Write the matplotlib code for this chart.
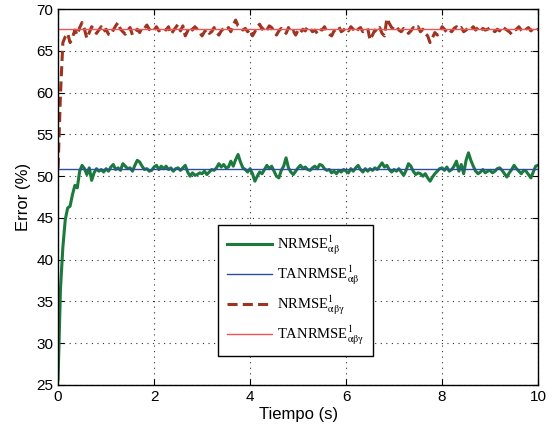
import numpy as np
import matplotlib
matplotlib.use("Agg")
import matplotlib.pyplot as plt

# sample times (s)
t = np.arange(201) * 0.05

# NRMSE alpha-beta (%)
nrmse_ab = [
    25.7, 36.5, 41.5, 44.8, 46.2, 46.4, 47.8, 48.9, 48.6, 50.6,
    51.3, 50.9, 50.2, 51.0, 49.5, 50.4, 50.9, 50.6, 50.8, 50.5,
    50.9, 50.6, 51.1, 51.4, 50.8, 51.0, 50.7, 51.5, 51.2, 50.9,
    51.0, 50.6, 51.3, 51.9, 51.7, 51.2, 50.8, 50.9, 50.6, 50.7,
    51.1, 51.3, 50.8, 51.2, 50.9, 51.2, 50.8, 51.0, 50.6, 50.9,
    51.0, 50.7, 51.0, 51.3, 50.5, 50.0, 50.4, 50.1, 50.2, 50.4,
    50.3, 50.6, 50.2, 50.5, 50.8, 50.7, 51.0, 51.5, 51.1, 51.4,
    51.0, 51.1, 51.8, 51.2, 52.0, 52.6, 51.7, 51.0, 50.8, 50.5,
    50.9, 50.3, 49.4, 50.0, 50.5, 50.3, 50.8, 51.3, 50.9, 51.2,
    50.6, 50.0, 49.8, 50.7, 51.2, 52.2, 51.0, 50.5, 50.2, 50.6,
    51.0, 51.3, 50.9, 51.1, 50.8, 50.7, 51.0, 51.2, 50.9, 51.4,
    51.3, 50.9, 50.7, 50.8, 50.4, 50.6, 50.3, 50.7, 50.5, 50.8,
    50.6, 50.4, 50.9, 50.6, 51.0, 51.3, 50.8, 50.5, 50.9, 50.6,
    50.9, 50.7, 51.0, 50.8, 51.2, 51.6, 51.1, 51.3, 50.8, 50.5,
    50.8, 50.6, 50.9, 50.5, 50.1, 50.7, 51.5, 51.2, 50.6, 50.2,
    50.4, 50.3, 50.0, 50.3, 49.8, 49.4, 49.9, 50.3, 50.6, 50.9,
    51.0, 50.7, 51.1, 50.6, 50.8, 51.2, 51.8, 50.6, 51.4, 50.3,
    51.9, 52.8, 51.9, 51.2, 50.6, 50.3, 50.5, 50.8, 50.4, 50.6,
    50.7, 50.4, 50.6, 50.9, 51.0, 50.7, 50.3, 49.9, 50.4, 50.8,
    51.3, 50.9, 50.6, 50.3, 50.7, 50.6, 50.2, 49.8, 50.5, 51.2,
    51.3,
]

# NRMSE alpha-beta-gamma (%)
nrmse_abg = [
    51.0, 59.8, 66.0, 66.7, 67.1, 66.0, 66.6, 67.5, 66.9, 67.8,
    68.4, 67.6, 66.5, 67.2, 67.9, 67.6, 67.1, 67.5, 67.9, 67.3,
    67.6, 67.0, 66.9, 67.5, 68.0, 68.4, 67.6, 67.3, 67.0, 67.5,
    67.8, 66.9, 67.3, 67.6, 67.2, 67.8, 67.7, 68.1, 67.6, 67.3,
    67.5, 67.9, 67.4, 67.6, 67.7, 67.5, 67.9, 67.0, 67.4, 67.8,
    68.2, 67.4, 68.0, 66.8, 67.4, 67.9, 67.5, 67.9, 67.6, 67.2,
    66.8, 67.3, 67.6, 67.1, 67.3, 67.8, 67.2, 66.9, 67.4, 67.7,
    67.5, 67.8, 67.3, 68.1, 68.7, 68.0, 67.8, 67.5, 67.7, 67.3,
    67.6, 66.8, 67.3, 67.9, 68.2, 67.6, 67.9, 67.5, 68.0, 67.8,
    67.3, 66.9, 67.4, 67.7, 67.5, 67.1, 67.8, 67.2, 67.4, 66.9,
    67.5, 67.2, 67.6, 67.4, 67.9, 67.7, 67.3, 67.5, 67.1, 67.6,
    67.5, 67.9, 67.3, 67.0, 66.8, 67.4, 67.6, 67.9, 67.3, 67.5,
    67.8, 67.4, 67.9, 67.6, 67.2, 67.6, 67.8, 67.3, 67.5, 67.7,
    66.3, 66.9, 67.5, 67.3, 67.8, 67.1, 66.8, 68.9, 68.3, 67.8,
    67.6, 67.9, 67.5, 67.3, 67.7, 67.5, 67.1, 67.4, 67.8, 67.6,
    67.9, 67.3, 67.6, 67.1, 66.8, 66.0, 66.6, 67.2, 66.9, 67.1,
    67.9, 67.6, 67.2, 67.5, 67.3, 67.7, 67.9, 67.6, 67.8, 67.3,
    67.5, 67.8, 67.6, 67.9, 67.5, 67.8, 67.4, 67.7, 67.5, 67.6,
    67.8, 67.5, 67.3, 67.6, 67.4, 67.9, 67.7, 67.5, 67.3, 67.0,
    67.4, 67.6, 67.9, 67.5, 67.3, 67.6, 67.8, 67.4, 67.7, 67.5,
    67.6,
]

# time-averaged values (%)
tanrmse_ab = 50.85
tanrmse_abg = 67.65

plt.rcParams['font.family'] = ['Liberation Sans', 'DejaVu Sans']
plt.rcParams['mathtext.fontset'] = 'stix'

fig = plt.figure(figsize=(5.53, 4.29), dpi=100)
ax = fig.add_axes([0.105, 0.1026, 0.868, 0.876])

ax.plot(t, nrmse_ab, '-', color='#1b7a3c', lw=2.2, label=r'NRMSE$^{1}_{\mathrm{αβ}}$')
ax.plot([t[0], t[-1]], [tanrmse_ab, tanrmse_ab], '-', color='#2c4da0', lw=1.0,
        label=r'TANRMSE$^{1}_{\mathrm{αβ}}$')
ax.plot(t, nrmse_abg, '--', color='#9c3422', lw=2.2, dashes=(3.3, 1.7),
        label=r'NRMSE$^{1}_{\mathrm{αβγ}}$')
ax.plot([t[0], t[-1]], [tanrmse_abg, tanrmse_abg], '-', color='#ee5555', lw=1.0,
        label=r'TANRMSE$^{1}_{\mathrm{αβγ}}$')

ax.set_xlim(0, 10)
ax.set_ylim(25, 70)
ax.set_xticks([0, 2, 4, 6, 8, 10])
ax.set_yticks(range(25, 71, 5))
ax.tick_params(direction='in', top=True, right=True, labelsize=11, length=4)
ax.grid(True, color='#333333', linestyle=(0, (1, 4)), lw=0.8)
for s in ax.spines.values():
    s.set_linewidth(1.0)

ax.set_xlabel('Tiempo (s)', fontsize=12, labelpad=2)
ax.set_ylabel('Error (%)', fontsize=12, labelpad=4)

leg = ax.legend(loc='upper left', bbox_to_anchor=(0.333, 0.426),
                fancybox=False, framealpha=1, edgecolor='black',
                handlelength=3.1, handletextpad=0.35, labelspacing=0.45,
                borderpad=0.6, borderaxespad=0,
                prop={'family': 'Liberation Serif', 'size': 10.5})
leg.get_frame().set_linewidth(1.0)

plt.savefig('out.png', dpi=100)
